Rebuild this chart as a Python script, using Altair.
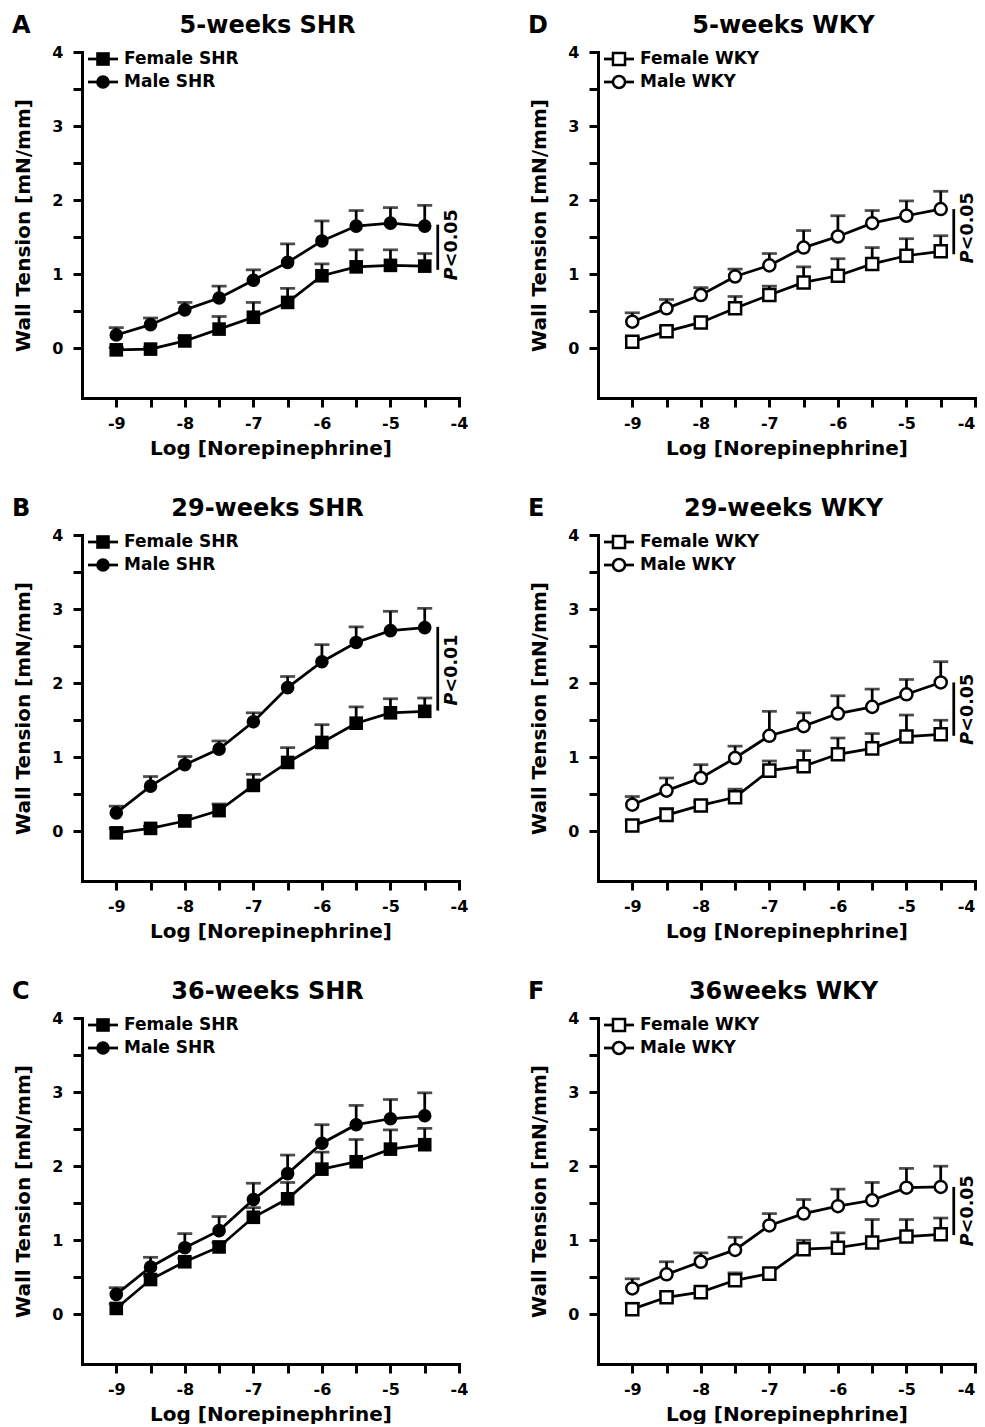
import altair as alt
import pandas as pd

# ---------------- data ----------------
LOG_NE = [-9.0, -8.5, -8.0, -7.5, -7.0, -6.5, -6.0, -5.5, -5.0, -4.5]

X_TICKS = [-9.0, -8.5, -8.0, -7.5, -7.0, -6.5, -6.0, -5.5, -5.0, -4.5, -4.0]
Y_TICKS = [0.0, 0.5, 1.0, 1.5, 2.0, 2.5, 3.0, 3.5, 4.0]

LETTERS = ["A", "D", "B", "E", "C", "F"]
TITLES = ["5-weeks SHR", "5-weeks WKY", "29-weeks SHR", "29-weeks WKY", "36-weeks SHR", "36weeks WKY"]
STRAINS = ["SHR", "WKY", "SHR", "WKY", "SHR", "WKY"]

# A: 5-weeks SHR
A_F_MEAN = [-0.02, -0.01, 0.10, 0.26, 0.42, 0.62, 0.98, 1.10, 1.12, 1.11]
A_F_SEM = [0.03, 0.02, 0.04, 0.17, 0.20, 0.19, 0.16, 0.23, 0.21, 0.17]
A_M_MEAN = [0.18, 0.32, 0.52, 0.68, 0.92, 1.16, 1.45, 1.65, 1.69, 1.65]
A_M_SEM = [0.10, 0.09, 0.10, 0.16, 0.14, 0.25, 0.27, 0.21, 0.21, 0.28]

# B: 29-weeks SHR
B_F_MEAN = [-0.02, 0.04, 0.14, 0.28, 0.62, 0.93, 1.20, 1.46, 1.60, 1.62]
B_F_SEM = [0.06, 0.03, 0.07, 0.09, 0.15, 0.20, 0.24, 0.22, 0.19, 0.18]
B_M_MEAN = [0.25, 0.61, 0.90, 1.11, 1.48, 1.94, 2.29, 2.55, 2.71, 2.75]
B_M_SEM = [0.09, 0.13, 0.11, 0.11, 0.12, 0.15, 0.23, 0.21, 0.26, 0.26]

# C: 36-weeks SHR
C_F_MEAN = [0.08, 0.47, 0.71, 0.91, 1.31, 1.56, 1.96, 2.06, 2.23, 2.29]
C_F_SEM = [0.06, 0.05, 0.05, 0.06, 0.13, 0.22, 0.23, 0.30, 0.26, 0.22]
C_M_MEAN = [0.27, 0.64, 0.90, 1.13, 1.55, 1.90, 2.31, 2.56, 2.64, 2.68]
C_M_SEM = [0.09, 0.13, 0.19, 0.19, 0.22, 0.25, 0.25, 0.26, 0.26, 0.31]

# D: 5-weeks WKY
D_F_MEAN = [0.09, 0.23, 0.35, 0.54, 0.72, 0.89, 0.98, 1.14, 1.25, 1.31]
D_F_SEM = [0.06, 0.05, 0.05, 0.16, 0.12, 0.21, 0.23, 0.22, 0.23, 0.21]
D_M_MEAN = [0.36, 0.54, 0.72, 0.97, 1.12, 1.36, 1.51, 1.69, 1.79, 1.88]
D_M_SEM = [0.12, 0.12, 0.10, 0.10, 0.16, 0.23, 0.28, 0.17, 0.20, 0.24]

# E: 29-weeks WKY
E_F_MEAN = [0.08, 0.22, 0.35, 0.46, 0.82, 0.88, 1.04, 1.12, 1.28, 1.31]
E_F_SEM = [0.06, 0.09, 0.05, 0.11, 0.13, 0.21, 0.22, 0.20, 0.29, 0.19]
E_M_MEAN = [0.36, 0.55, 0.72, 0.99, 1.29, 1.42, 1.59, 1.68, 1.85, 2.01]
E_M_SEM = [0.11, 0.17, 0.18, 0.16, 0.33, 0.18, 0.24, 0.24, 0.20, 0.28]

# F: 36weeks WKY
F_F_MEAN = [0.07, 0.23, 0.30, 0.46, 0.55, 0.88, 0.90, 0.97, 1.05, 1.08]
F_F_SEM = [0.08, 0.05, 0.04, 0.10, 0.07, 0.12, 0.20, 0.31, 0.23, 0.22]
F_M_MEAN = [0.35, 0.54, 0.71, 0.87, 1.20, 1.36, 1.46, 1.54, 1.71, 1.72]
F_M_SEM = [0.13, 0.17, 0.12, 0.17, 0.16, 0.19, 0.23, 0.24, 0.26, 0.28]

SERIES = [
    (A_F_MEAN, A_F_SEM, A_M_MEAN, A_M_SEM),
    (D_F_MEAN, D_F_SEM, D_M_MEAN, D_M_SEM),
    (B_F_MEAN, B_F_SEM, B_M_MEAN, B_M_SEM),
    (E_F_MEAN, E_F_SEM, E_M_MEAN, E_M_SEM),
    (C_F_MEAN, C_F_SEM, C_M_MEAN, C_M_SEM),
    (F_F_MEAN, F_F_SEM, F_M_MEAN, F_M_SEM),
]

# significance annotations: (label, bracket low, bracket high, text start) or None
P_NOTES = [
    ("<0.05", 1.06, 1.67, 0.92),
    ("<0.05", 1.27, 1.88, 1.15),
    ("<0.01", 1.63, 2.76, 1.70),
    ("<0.05", 1.29, 2.01, 1.17),
    None,
    ("<0.05", 1.07, 1.72, 0.92),
]
P_LINE_X = -4.31
P_TEXT_X = -4.1

FONT = "DejaVu Sans"
W, H = 377, 346
LW = 2.75


def X(field, flush):
    return alt.X(
        f"{field}:Q",
        scale=alt.Scale(domain=[-9.5, -4.0], nice=False, zero=False),
        axis=alt.Axis(
            values=X_TICKS,
            labelExpr="datum.value % 1 === 0 ? '-' + abs(datum.value) : ''",
            labelFlush=flush,
            title="Log [Norepinephrine]",
        ),
    )


def Y(field):
    return alt.Y(
        f"{field}:Q",
        scale=alt.Scale(domain=[-0.67, 4.0], nice=False, zero=False),
        axis=alt.Axis(
            values=Y_TICKS,
            labelExpr="datum.value % 1 === 0 ? '' + datum.value : ''",
            title="Wall Tension [mN/mm]",
        ),
    )


def point_style(hollow):
    if hollow:
        return dict(filled=False, fill="white", stroke="black", strokeWidth=2.5, size=145, opacity=1)
    return dict(filled=True, color="black", size=185, opacity=1)


def panel(i):
    strain = STRAINS[i]
    fm, fs, mm, ms = SERIES[i]
    female, male = f"Female {strain}", f"Male {strain}"
    hollow = strain == "WKY"
    flush = 1 if i % 2 == 1 else False
    df = pd.DataFrame({
        "x": LOG_NE + LOG_NE,
        "mean": fm + mm,
        "sem": fs + ms,
        "series": [female] * len(LOG_NE) + [male] * len(LOG_NE),
    })
    base = alt.Chart(df).transform_calculate(upper="datum.mean + datum.sem")
    err = base.mark_rule(color="black", strokeWidth=LW).encode(x=X("x", flush), y=Y("mean"), y2="upper:Q")
    cap = base.mark_tick(color="black", orient="horizontal", size=15, thickness=LW).encode(
        x=X("x", flush), y=Y("upper"))
    line = base.mark_line(color="black", strokeWidth=LW).encode(
        x=X("x", flush), y=Y("mean"), detail="series:N")
    pts = base.mark_point(**point_style(hollow)).encode(
        x=X("x", flush), y=Y("mean"),
        shape=alt.Shape("series:N", scale=alt.Scale(domain=[female, male], range=["square", "circle"]),
                        legend=None),
    )
    layers = [err, cap, line, pts]

    # in-plot legend
    for k, (lab, shp) in enumerate([(female, "square"), (male, "circle")]):
        ldf = pd.DataFrame({"label": [lab]})
        yy = 7 + 23 * k
        layers.append(alt.Chart(ldf).mark_rule(color="black", strokeWidth=LW).encode(
            x=alt.value(6), x2=alt.value(36), y=alt.value(yy)))
        layers.append(alt.Chart(ldf).mark_point(shape=shp, **point_style(hollow)).encode(
            x=alt.value(21), y=alt.value(yy)))
        layers.append(alt.Chart(ldf).mark_text(align="left", baseline="middle", font=FONT, fontSize=17,
                                                fontWeight="bold", color="black").encode(
            x=alt.value(42), y=alt.value(yy), text="label:N"))

    # panel letter and panel title
    hdf = pd.DataFrame({"letter": [LETTERS[i]], "title": [TITLES[i]]})
    layers.append(alt.Chart(hdf).mark_text(
        align="left", baseline="alphabetic", font=FONT, fontSize=24, fontWeight="bold", color="black"
    ).encode(x=alt.value(-70), y=alt.value(-19), text="letter:N"))
    layers.append(alt.Chart(hdf).mark_text(
        align="center", baseline="alphabetic", font=FONT, fontSize=24, fontWeight="bold", color="black"
    ).encode(x=alt.value(W / 2 - 3), y=alt.value(-19), text="title:N"))

    note = P_NOTES[i]
    if note is not None:
        lab, lo, hi, start = note
        pdf = pd.DataFrame({"x": [P_LINE_X], "lo": [lo], "hi": [hi], "tx": [P_TEXT_X], "ty": [start],
                            "p": ["P"], "rest": [lab]})
        layers.append(alt.Chart(pdf).mark_rule(color="black", strokeWidth=LW).encode(
            x=X("x", flush), y=Y("lo"), y2="hi:Q"))
        layers.append(alt.Chart(pdf).mark_text(angle=270, align="left", baseline="middle", font=FONT,
                                               fontSize=17.5, fontWeight="bold", fontStyle="italic",
                                               color="black").encode(x=X("tx", flush), y=Y("ty"), text="p:N"))
        layers.append(alt.Chart(pdf).mark_text(angle=270, align="left", baseline="middle", font=FONT,
                                               fontSize=17.5, fontWeight="bold", dx=13,
                                               color="black").encode(x=X("tx", flush), y=Y("ty"),
                                                                     text="rest:N"))

    return alt.layer(*layers).properties(width=W, height=H)


chart = alt.concat(*[panel(i) for i in range(6)], columns=2, spacing={"row": 137, "column": 139},
                   bounds="flush").properties(
    padding={"left": 4, "top": 6, "right": 0, "bottom": 0}
).configure_view(stroke=None).configure_axis(
    domainColor="black", domainWidth=3, domainCap="square", tickColor="black", tickWidth=3, tickSize=9,
    labelColor="black", labelFont=FONT, labelFontSize=16, labelFontWeight="bold",
    labelOverlap=False,
    titleColor="black", titleFont=FONT, titleFontSize=20, titleFontWeight="bold", grid=False,
).configure_axisX(labelPadding=8, titlePadding=7).configure_axisY(labelPadding=10, titlePadding=18)

chart.save("out.html", embed_options={"renderer": "svg", "actions": False})
